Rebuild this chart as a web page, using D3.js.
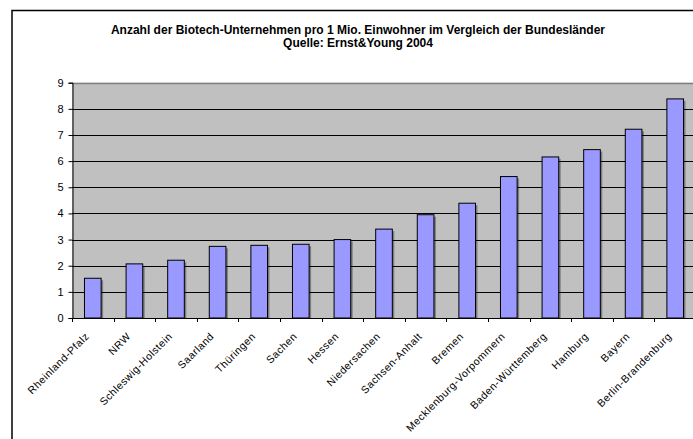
<!DOCTYPE html>
<html>
<head>
<meta charset="utf-8">
<script src="https://cdn.jsdelivr.net/npm/d3@7"></script>
<style>
  html, body { margin: 0; padding: 0; background: #fff; }
  svg { display: block; font-family: "Liberation Sans", Arial, sans-serif; }
</style>
</head>
<body>
<svg id="chart" width="693" height="439"></svg>
<script>
const categories = ["Rheinland-Pfalz", "NRW", "Schleswig-Holstein", "Saarland", "Thüringen", "Sachen", "Hessen", "Niedersachen", "Sachsen-Anhalt", "Bremen", "Mecklenburg-Vorpommern", "Baden-Württemberg", "Hamburg", "Bayern", "Berlin-Brandenburg"];
const values = [1.52, 2.07, 2.21, 2.74, 2.78, 2.82, 3.0, 3.4, 3.95, 4.39, 5.41, 6.16, 6.44, 7.22, 8.38];
const yTicks = [0, 1, 2, 3, 4, 5, 6, 7, 8, 9];
const titleLines = ["Anzahl der Biotech-Unternehmen pro 1 Mio. Einwohner im Vergleich der Bundesländer", "Quelle: Ernst&Young 2004"];

(function () {
const svg = d3.select("#chart");
const pLeft = 72, pRight = 696, pTop = 82.7, pBottom = 318;

// outer chart frame
svg.append("rect").attr("x", 12).attr("y", 10.5).attr("width", 693).attr("height", 440)
  .attr("fill", "#fff").attr("stroke", "#000").attr("stroke-width", 1.5);

// title
const title = svg.append("text").attr("text-anchor", "middle")
  .attr("font-size", 12).attr("font-weight", "bold").attr("fill", "#000");
titleLines.forEach((t, i) => {
  title.append("tspan").attr("x", 358).attr("y", 33.5 + i * 13.5).text(t);
});

const x = d3.scaleBand().domain(categories).range([pLeft, pRight]).paddingInner(0).paddingOuter(0);
const y = d3.scaleLinear().domain([0, 9]).range([pBottom, pTop]);

// plot area
svg.append("rect").attr("x", pLeft).attr("y", pTop).attr("width", pRight - pLeft).attr("height", pBottom - pTop)
  .attr("fill", "#C0C0C0");

// gridlines
svg.append("g").selectAll("line").data(yTicks.filter(d => d > 0 && d < 9)).join("line")
  .attr("x1", pLeft).attr("x2", pRight)
  .attr("y1", d => Math.round(y(d)) + 0.5).attr("y2", d => Math.round(y(d)) + 0.5)
  .attr("stroke", "#000").attr("stroke-width", 1);
// top border of plot
svg.append("line").attr("x1", pLeft).attr("x2", pRight)
  .attr("y1", Math.round(y(9)) + 0.5).attr("y2", Math.round(y(9)) + 0.5)
  .attr("stroke", "#808080").attr("stroke-width", 1.5);

// bars
const bw = x.bandwidth() / 2.5;
const bars = svg.append("g");
bars.selectAll("rect.shadow").data(values).join("rect").attr("class", "shadow")
  .attr("x", (d, i) => x(categories[i]) + (x.bandwidth() - bw) / 2 + 2)
  .attr("y", d => y(d) + 2)
  .attr("width", bw).attr("height", d => pBottom - y(d) - 2)
  .attr("fill", "#000").attr("opacity", 0.35);
bars.selectAll("rect.bar").data(values).join("rect").attr("class", "bar")
  .attr("x", (d, i) => x(categories[i]) + (x.bandwidth() - bw) / 2)
  .attr("y", d => y(d))
  .attr("width", bw).attr("height", d => pBottom - y(d))
  .attr("fill", "#9999FF").attr("stroke", "#000").attr("stroke-width", 1);

// y axis
const yAxis = d3.axisLeft(y).tickValues(yTicks).tickSize(4).tickPadding(5).tickFormat(d3.format("d"));
const gy = svg.append("g").attr("transform", `translate(${pLeft + 0.5},0)`).call(yAxis);
gy.select(".domain").attr("stroke", "#000");
gy.selectAll("text").attr("font-size", 11).attr("fill", "#000").attr("font-family", "Liberation Sans, Arial, sans-serif");

// x axis
const bounds = d3.range(categories.length + 1).map(i => pLeft + i * x.bandwidth());
const gx = svg.append("g");
gx.append("line").attr("x1", pLeft).attr("x2", pRight).attr("y1", pBottom + 0.5).attr("y2", pBottom + 0.5)
  .attr("stroke", "#000").attr("stroke-width", 1.2);
gx.selectAll("line.tick").data(bounds).join("line").attr("class", "tick")
  .attr("x1", d => Math.round(d) + 0.5).attr("x2", d => Math.round(d) + 0.5)
  .attr("y1", pBottom).attr("y2", pBottom + 4).attr("stroke", "#000");
gx.selectAll("text").data(categories).join("text")
  .attr("transform", d => `translate(${x(d) + x.bandwidth() / 2 - 3},${pBottom + 19}) rotate(-45)`)
  .attr("text-anchor", "end").attr("font-size", 10.5).attr("letter-spacing", 0.5).attr("fill", "#000")
  .text(d => d);
})();
</script>
</body>
</html>
